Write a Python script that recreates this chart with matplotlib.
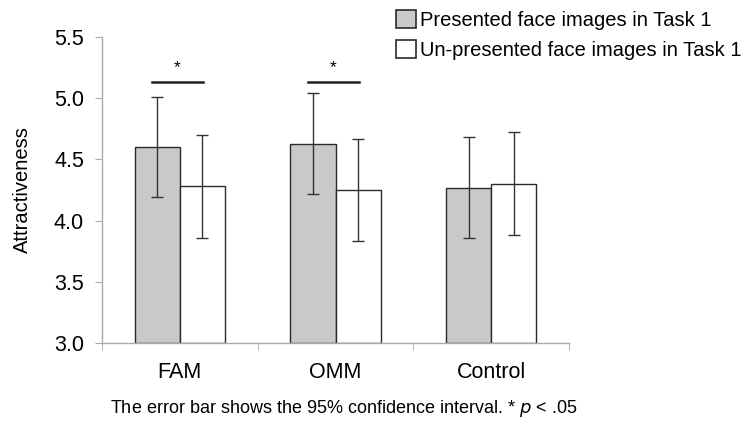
import matplotlib
matplotlib.use("Agg")
import matplotlib.pyplot as plt
from matplotlib.patches import Patch
import numpy as np

plt.rcParams['font.family'] = ['Liberation Sans', 'DejaVu Sans']

categories = ["FAM", "OMM", "Control"]
presented = [4.60, 4.63, 4.27]
presented_err = [0.41, 0.415, 0.41]
unpresented = [4.28, 4.25, 4.30]
unpresented_err = [0.42, 0.418, 0.42]
y_ticks = [3.0, 3.5, 4.0, 4.5, 5.0, 5.5]
sig_groups = [0, 1]
sig_level = 5.13

fig = plt.figure(figsize=(7.51, 4.26), dpi=100)
ax = fig.add_axes([0.1358, 0.195, 0.622, 0.718])

centers = np.arange(len(categories)) + 0.5
w = 0.29
gray = "#c8c9cb"
edge = "#2a2a2a"

ax.bar(centers - w / 2, [v - 3.0 for v in presented], bottom=3.0, width=w,
       color=gray, edgecolor=edge, linewidth=1.0, zorder=2)
ax.bar(centers + w / 2, [v - 3.0 for v in unpresented], bottom=3.0, width=w,
       color="white", edgecolor=edge, linewidth=1.0, zorder=2)
ax.errorbar(centers - w / 2, presented, yerr=presented_err, fmt="none",
            ecolor="#333333", elinewidth=1.0, capsize=4, capthick=1.0, zorder=3)
ax.errorbar(centers + w / 2, unpresented, yerr=unpresented_err, fmt="none",
            ecolor="#333333", elinewidth=1.0, capsize=4, capthick=1.0, zorder=3)

for g in sig_groups:
    c = centers[g]
    ax.plot([c - 0.18, c + 0.15], [sig_level, sig_level], color="#222222", lw=1.8,
            clip_on=False)
    ax.text(c - 0.015, sig_level + 0.06, "*", ha="center", va="bottom", fontsize=12.5)

ax.set_xlim(0, 3)
ax.set_ylim(3.0, 5.5)
ax.set_yticks(y_ticks)
ax.set_yticklabels([f"{t:.1f}" for t in y_ticks], fontsize=15.5)
ax.set_xticks(centers)
ax.set_xticklabels(categories, fontsize=15.5)
ax.tick_params(axis="x", length=0, pad=14)
ax.set_xticks([0, 1, 2, 3], minor=True)
ax.tick_params(axis="x", which="minor", length=5, color="#aaaaaa", direction="out")
ax.tick_params(axis="y", length=5, color="#aaaaaa", direction="out", pad=8)

for s in ["top", "right"]:
    ax.spines[s].set_visible(False)
for s in ["left", "bottom"]:
    ax.spines[s].set_color("#aaaaaa")
    ax.spines[s].set_linewidth(1.0)

ax.set_ylabel("Attractiveness", fontsize=14.5, labelpad=16)

handles = [Patch(facecolor=gray, edgecolor=edge, linewidth=1.2),
           Patch(facecolor="white", edgecolor=edge, linewidth=1.2)]
fig.legend(handles, ["Presented face images in Task 1", "Un-presented face images in Task 1"],
           loc="upper left", bbox_to_anchor=(0.516, 0.995), frameon=False,
           fontsize=14.5, handlelength=1.0, handleheight=1.0, handletextpad=0.2,
           labelspacing=0.5, borderaxespad=0)

fig.text(0.458, 0.042, "The error bar shows the 95% confidence interval. * $\\it{p}$ < .05",
         ha="center", va="center", fontsize=13)

fig.savefig("out.png", dpi=100)
